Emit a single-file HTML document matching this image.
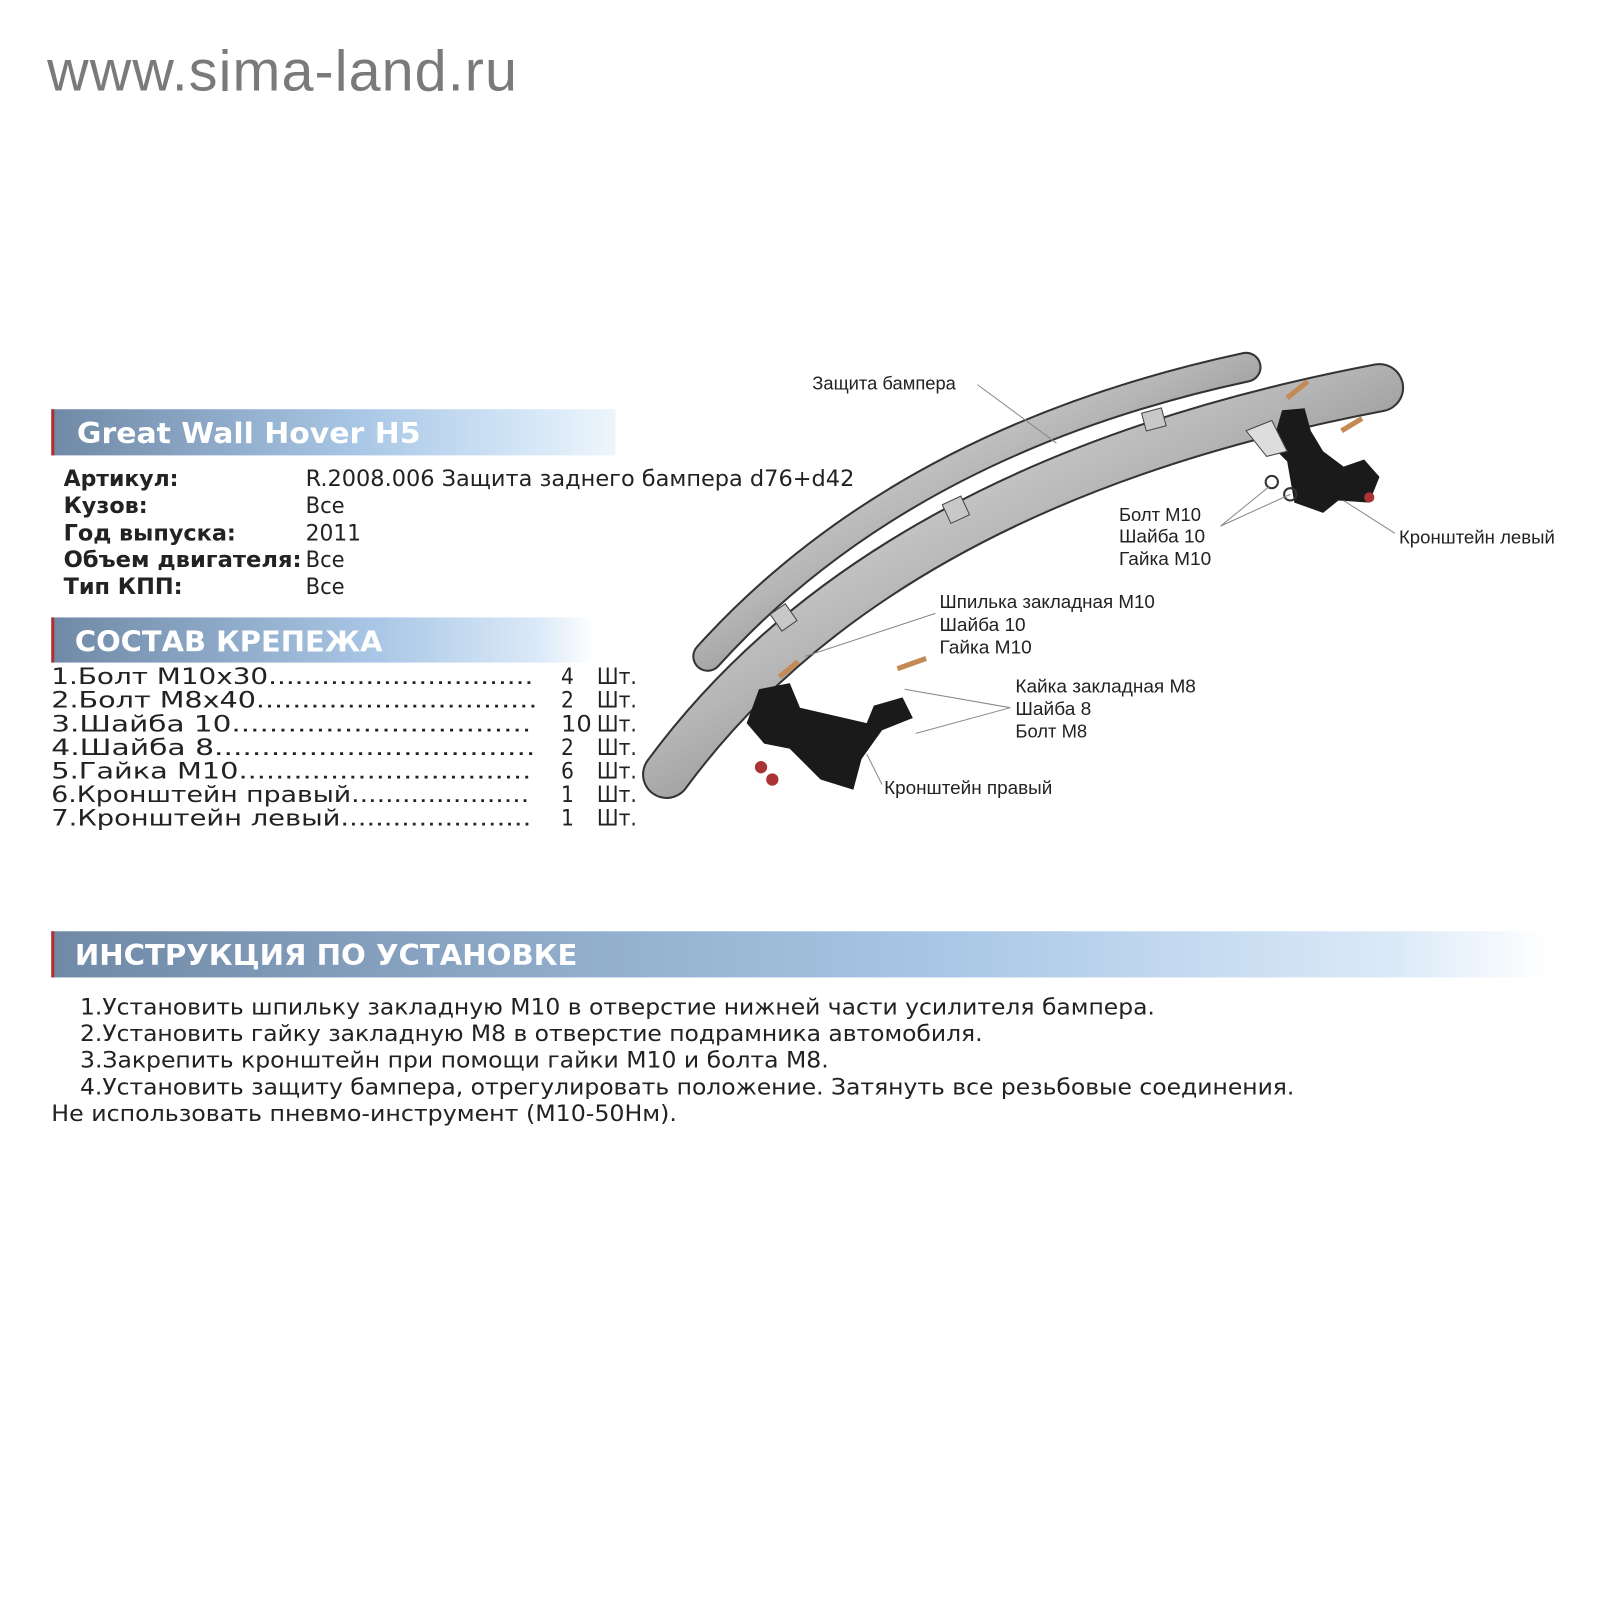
<!DOCTYPE html>
<html><head><meta charset="utf-8"><style>html,body{margin:0;padding:0;background:#fff;width:1600px;height:1600px;overflow:hidden}svg{display:block}</style></head>
<body>
<svg width="1600" height="1600" viewBox="0 0 1560 1560" xmlns="http://www.w3.org/2000/svg">
<defs>
<linearGradient id="hb" x1="0" x2="1" y1="0" y2="0">
<stop offset="0" stop-color="#6f89a6"/><stop offset="0.55" stop-color="#a9c7e6"/><stop offset="0.85" stop-color="#d5e7f7"/><stop offset="1" stop-color="#eef5fc"/></linearGradient>
<linearGradient id="hb2" x1="0" x2="1" y1="0" y2="0">
<stop offset="0" stop-color="#6f89a6"/><stop offset="0.6" stop-color="#a9c7e6"/><stop offset="0.9" stop-color="#dceaf8"/><stop offset="1" stop-color="#ffffff"/></linearGradient>
<linearGradient id="tube" x1="0" x2="1" y1="0" y2="1">
<stop offset="0" stop-color="#f4f4f4"/><stop offset="0.45" stop-color="#b5b5b5"/><stop offset="1" stop-color="#4a4a4a"/></linearGradient>
</defs>
<style>
.t{font-family:"DejaVu Sans Condensed","DejaVu Sans",sans-serif;font-size:22px;fill:#222}
.b{font-weight:bold}
.h{font-family:"DejaVu Sans",sans-serif;font-weight:bold;fill:#fff;font-size:28px}
.l{font-family:"Liberation Sans Narrow","Liberation Sans",sans-serif;font-size:18px;fill:#222}
</style>
<text x="46" y="88" font-family="Liberation Sans,sans-serif" font-size="56" fill="#7a7a7a" textLength="458">www.sima-land.ru</text>

<rect x="50" y="399" width="550" height="45" fill="url(#hb)"/><rect x="50" y="399" width="3" height="45" fill="#b03030"/>
<text class="h" x="75" y="432" textLength="335" lengthAdjust="spacingAndGlyphs">Great Wall Hover H5</text>
<g class="t">
<text class="b" x="62" y="474" textLength="112" lengthAdjust="spacingAndGlyphs">Артикул:</text>
<text x="298" y="474" textLength="535" lengthAdjust="spacingAndGlyphs">R.2008.006 Защита заднего бампера d76+d42</text>
<text class="b" x="62" y="500" textLength="82" lengthAdjust="spacingAndGlyphs">Кузов:</text><text x="298" y="500" textLength="38" lengthAdjust="spacingAndGlyphs">Все</text>
<text class="b" x="62" y="527" textLength="168" lengthAdjust="spacingAndGlyphs">Год выпуска:</text><text x="298" y="527" textLength="54" lengthAdjust="spacingAndGlyphs">2011</text>
<text class="b" x="62" y="553" textLength="232" lengthAdjust="spacingAndGlyphs">Объем двигателя:</text><text x="298" y="553" textLength="38" lengthAdjust="spacingAndGlyphs">Все</text>
<text class="b" x="62" y="579" textLength="116" lengthAdjust="spacingAndGlyphs">Тип КПП:</text><text x="298" y="579" textLength="38" lengthAdjust="spacingAndGlyphs">Все</text>
</g>
<rect x="50" y="602" width="530" height="44" fill="url(#hb2)"/><rect x="50" y="602" width="3" height="44" fill="#b03030"/>
<text class="h" x="73" y="635" textLength="300" lengthAdjust="spacingAndGlyphs">СОСТАВ КРЕПЕЖА</text>
<g class="t">
<text x="50" y="667" textLength="470" lengthAdjust="spacingAndGlyphs">1.Болт M10x30..............................</text>
<text x="50" y="690" textLength="474" lengthAdjust="spacingAndGlyphs">2.Болт M8x40...............................</text>
<text x="50" y="713" textLength="468" lengthAdjust="spacingAndGlyphs">3.Шайба 10................................</text>
<text x="50" y="736" textLength="472" lengthAdjust="spacingAndGlyphs">4.Шайба 8..................................</text>
<text x="50" y="759" textLength="468" lengthAdjust="spacingAndGlyphs">5.Гайка M10................................</text>
<text x="50" y="782" textLength="466" lengthAdjust="spacingAndGlyphs">6.Кронштейн правый.....................</text>
<text x="50" y="805" textLength="468" lengthAdjust="spacingAndGlyphs">7.Кронштейн левый......................</text>
<text x="547" y="667">4</text><text x="582" y="667">Шт.</text>
<text x="547" y="690">2</text><text x="582" y="690">Шт.</text>
<text x="547" y="713" textLength="30" lengthAdjust="spacingAndGlyphs">10</text><text x="582" y="713">Шт.</text>
<text x="547" y="736">2</text><text x="582" y="736">Шт.</text>
<text x="547" y="759">6</text><text x="582" y="759">Шт.</text>
<text x="547" y="782">1</text><text x="582" y="782">Шт.</text>
<text x="547" y="805">1</text><text x="582" y="805">Шт.</text>
</g>

<rect x="50" y="908" width="1460" height="45" fill="url(#hb2)"/><rect x="50" y="908" width="3" height="45" fill="#b03030"/>
<text class="h" x="73" y="941" textLength="490" lengthAdjust="spacingAndGlyphs">ИНСТРУКЦИЯ ПО УСТАНОВКЕ</text>
<g class="t">
<text x="78" y="989" textLength="1048" lengthAdjust="spacingAndGlyphs">1.Установить шпильку закладную М10 в отверстие нижней части усилителя бампера.</text>
<text x="78" y="1015" textLength="880" lengthAdjust="spacingAndGlyphs">2.Установить гайку закладную М8 в отверстие подрамника автомобиля.</text>
<text x="78" y="1041" textLength="730" lengthAdjust="spacingAndGlyphs">3.Закрепить кронштейн при помощи гайки М10 и болта М8.</text>
<text x="78" y="1067" textLength="1184" lengthAdjust="spacingAndGlyphs">4.Установить защиту бампера, отрегулировать положение. Затянуть все резьбовые соединения.</text>
<text x="50" y="1093" textLength="610" lengthAdjust="spacingAndGlyphs">Не использовать пневмо-инструмент (М10-50Нм).</text>
</g>

<!-- tubes -->
<path d="M690 640 Q 880 430 1215 358" stroke="#333" stroke-width="30" fill="none" stroke-linecap="round"/>
<path d="M690 640 Q 880 430 1215 358" stroke="url(#tube)" stroke-width="26" fill="none" stroke-linecap="round"/>
<path d="M650 755 Q 860 470 1345 378" stroke="#333" stroke-width="48" fill="none" stroke-linecap="round"/>
<path d="M650 755 Q 860 470 1345 378" stroke="url(#tube)" stroke-width="44" fill="none" stroke-linecap="round"/>
<rect x="1115" y="400" width="20" height="18" fill="#c8c8c8" stroke="#444" transform="rotate(-15 1125 409)"/>
<rect x="922" y="487" width="20" height="20" fill="#c8c8c8" stroke="#444" transform="rotate(-25 932 497)"/>
<rect x="755" y="592" width="18" height="20" fill="#c8c8c8" stroke="#444" transform="rotate(-35 764 602)"/>

<!-- brackets -->
<path d="M740 672 L770 666 L780 690 L845 705 L852 688 L880 680 L890 700 L860 712 L840 740 L832 770 L800 760 L770 730 L745 725 L728 705 Z" fill="#1a1a1a"/>
<path d="M1250 400 L1272 398 L1278 420 L1290 440 L1310 455 L1330 448 L1345 465 L1335 490 L1305 488 L1290 500 L1262 490 L1255 450 L1240 435 Z" fill="#1a1a1a"/>
<path d="M1215 420 L1240 410 L1255 440 L1235 445 Z" fill="#ddd" stroke="#444"/>
<g stroke="#c48a55" stroke-width="5">
<line x1="760" y1="660" x2="778" y2="645"/><line x1="875" y1="652" x2="903" y2="642"/>
<line x1="1255" y1="388" x2="1275" y2="372"/><line x1="1308" y1="420" x2="1328" y2="408"/>
</g>
<g fill="#a33">
<circle cx="742" cy="748" r="6"/><circle cx="753" cy="760" r="6"/><circle cx="1335" cy="485" r="5"/>
</g>
<g fill="none" stroke="#333" stroke-width="2"><circle cx="1240" cy="470" r="6"/><circle cx="1258" cy="482" r="6"/></g>

<!-- leaders -->
<g stroke="#888" stroke-width="1" fill="none">
<line x1="953" y1="375" x2="1030" y2="432"/>
<line x1="912" y1="598" x2="785" y2="640"/>
<polyline points="1238,474 1190,513 1258,482"/>
<line x1="1360" y1="520" x2="1310" y2="488"/>
<polyline points="882,672 985,690 893,715"/>
<line x1="860" y1="765" x2="845" y2="735"/>
</g>
<g class="l">
<text x="792" y="380" textLength="140" lengthAdjust="spacingAndGlyphs">Защита бампера</text>
<text x="1091" y="508" textLength="80" lengthAdjust="spacingAndGlyphs">Болт M10</text><text x="1091" y="529" textLength="84" lengthAdjust="spacingAndGlyphs">Шайба 10</text><text x="1091" y="551" textLength="90" lengthAdjust="spacingAndGlyphs">Гайка M10</text>
<text x="1364" y="530" textLength="152" lengthAdjust="spacingAndGlyphs">Кронштейн левый</text>
<text x="916" y="593" textLength="210" lengthAdjust="spacingAndGlyphs">Шпилька закладная M10</text><text x="916" y="615" textLength="84" lengthAdjust="spacingAndGlyphs">Шайба 10</text><text x="916" y="637" textLength="90" lengthAdjust="spacingAndGlyphs">Гайка M10</text>
<text x="990" y="675" textLength="176" lengthAdjust="spacingAndGlyphs">Кайка закладная M8</text><text x="990" y="697" textLength="74" lengthAdjust="spacingAndGlyphs">Шайба 8</text><text x="990" y="719" textLength="70" lengthAdjust="spacingAndGlyphs">Болт M8</text>
<text x="862" y="774" textLength="164" lengthAdjust="spacingAndGlyphs">Кронштейн правый</text>
</g>
</svg>
</body></html>
